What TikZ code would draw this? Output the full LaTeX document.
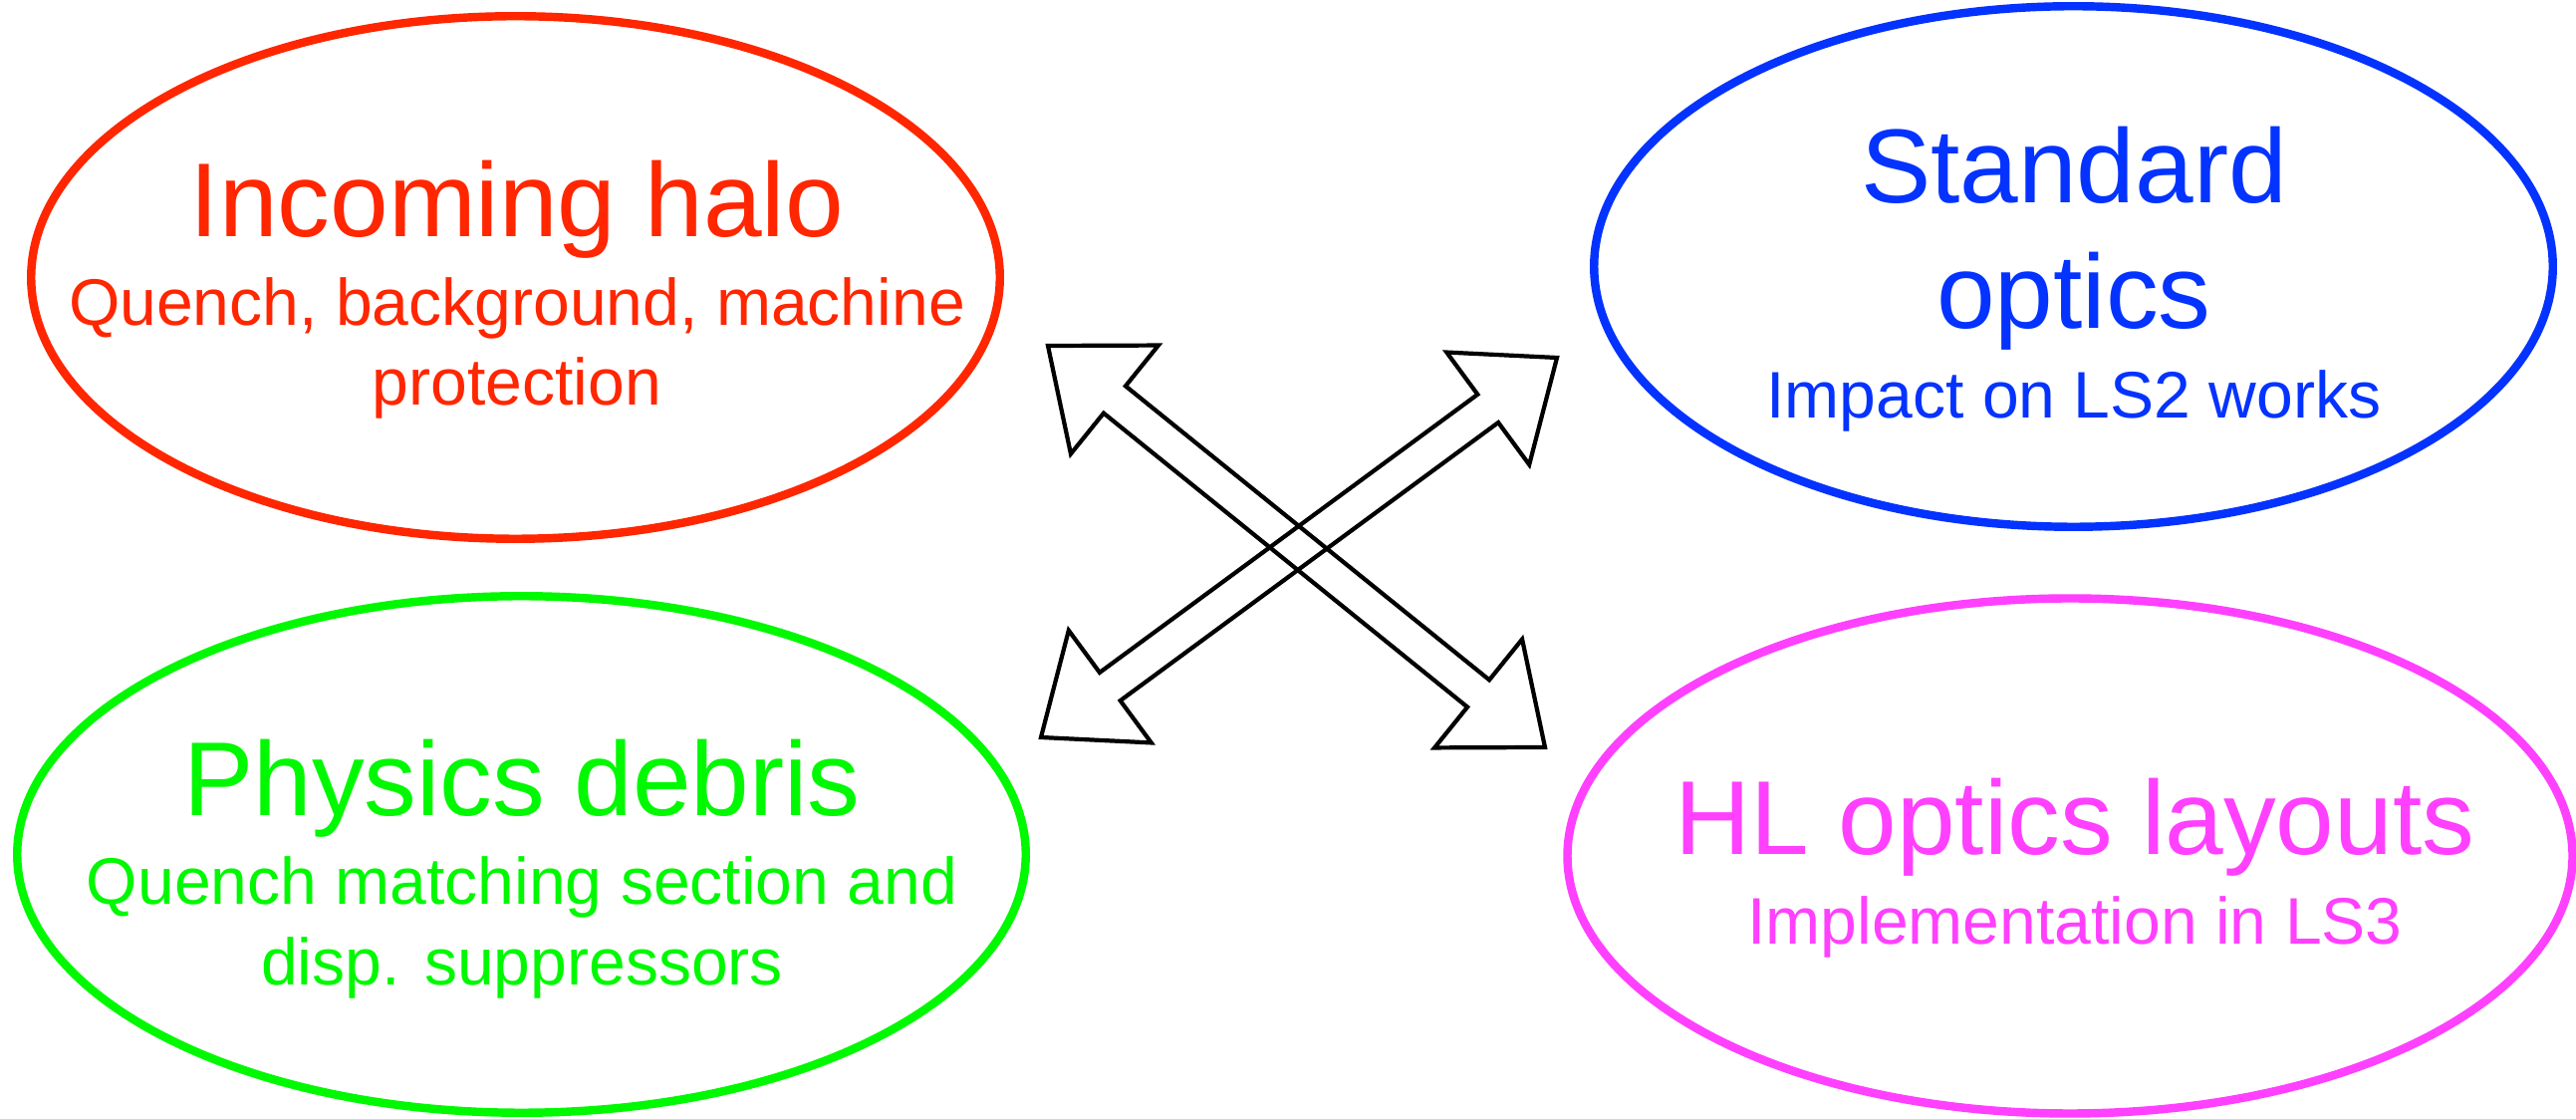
\documentclass[tikz,border=0pt]{standalone}
\usepackage{fontspec}
\setmainfont{Liberation Sans}
\usetikzlibrary{shapes.geometric,calc}
\definecolor{halored}{RGB}{255,38,0}
\definecolor{opticsblue}{RGB}{4,51,255}
\definecolor{debrisgreen}{RGB}{0,249,0}
\definecolor{hlmagenta}{RGB}{255,64,255}
\tikzset{
	bubble/.style={ellipse,draw,line width=2.4pt,inner sep=0pt},
	title/.style={anchor=base,inner sep=0pt,font=\fontsize{30}{36}\selectfont},
	sub/.style={anchor=base,inner sep=0pt,font=\fontsize{18.8}{22.8}\selectfont},
	twoway/.style={draw,line width=1.2pt,line join=miter}
}
% block arrow with a head at both ends, from #1 to #2
\newcommand{\twowayarrow}[2]{%
	\draw[twoway] (#1) -- ($(#1)!0.86cm!(#2)!0.7cm!90:(#2)$) -- ($(#1)!0.86cm!(#2)!0.175cm!90:(#2)$)
		-- ($(#2)!0.86cm!(#1)!0.175cm!-90:(#1)$) -- ($(#2)!0.86cm!(#1)!0.7cm!-90:(#1)$) -- (#2)
		-- ($(#2)!0.86cm!(#1)!0.7cm!90:(#1)$) -- ($(#2)!0.86cm!(#1)!0.175cm!90:(#1)$)
		-- ($(#1)!0.86cm!(#2)!0.175cm!-90:(#2)$) -- ($(#1)!0.86cm!(#2)!0.7cm!-90:(#2)$) -- cycle;}
\begin{document}
\begin{tikzpicture}
	\useasboundingbox (0,0) rectangle (25.86,11.23);
	% the four topics
	\node[bubble,draw=halored,minimum width=9.725cm,minimum height=5.245cm] (halo) at (5.175,8.445) {};
	\node[bubble,draw=opticsblue,minimum width=9.625cm,minimum height=5.225cm] (optics) at (20.815,8.555) {};
	\node[bubble,draw=debrisgreen,minimum width=10.125cm,minimum height=5.185cm] (debris) at (5.235,2.655) {};
	\node[bubble,draw=hlmagenta,minimum width=10.09cm,minimum height=5.17cm] (layouts) at (20.78,2.64) {};
	% texts
	\node[title,text=halored] (haloT) at (5.19,8.85) {Incoming halo};
	\node[sub,text=halored] (haloA) at (5.19,7.96) {Quench, background, machine};
	\node[sub,text=halored] (haloB) at (5.19,7.16) {protection};
	\node[title,text=opticsblue] (opticsT) at (20.82,9.19) {Standard};
	\node[title,text=opticsblue] (opticsU) at (20.82,7.93) {optics};
	\node[sub,text=opticsblue] (opticsA) at (20.82,7.03) {Impact on LS2 works};
	\node[title,text=debrisgreen] (debrisT) at (5.24,3.045) {Physics debris};
	\node[sub,text=debrisgreen] (debrisA) at (5.24,2.15) {Quench matching section and};
	\node[sub,text=debrisgreen] (debrisB) at (5.24,1.34) {disp. suppressors};
	\node[title,text=hlmagenta] (layoutsT) at (20.83,2.65) {HL optics layouts};
	\node[sub,text=hlmagenta] (layoutsA) at (20.83,1.75) {Implementation in LS3};
	% crossing arrows
	\coordinate (a1) at (10.52,7.76);
	\coordinate (a2) at (15.51,3.73);
	\coordinate (b1) at (10.45,3.83);
	\coordinate (b2) at (15.63,7.64);
	\twowayarrow{a1}{a2}
	\twowayarrow{b1}{b2}
\end{tikzpicture}
\end{document}
